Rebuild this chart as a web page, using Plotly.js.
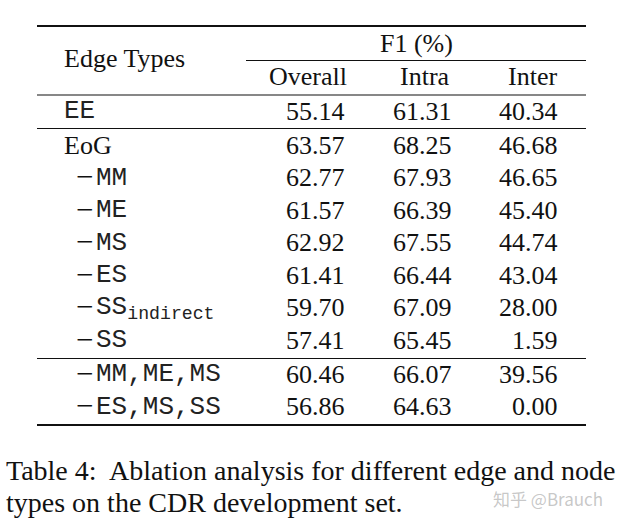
<!DOCTYPE html>
<html>
<head>
<meta charset="utf-8">
<script src="https://cdn.plot.ly/plotly-3.0.1.min.js"></script>
<style>html,body{margin:0;padding:0;background:#fff;}#chart{width:626px;height:522px;}</style>
</head>
<body>
<div id="chart"></div>
<script>
// ---- data ----
const edgeTypes = ["EE", "EoG", "MM", "ME", "MS", "ES", "SS<sub>indirect</sub>", "SS", "MM,ME,MS", "ES,MS,SS"];
const overall   = ["55.14", "63.57", "62.77", "61.57", "62.92", "61.41", "59.70", "57.41", "60.46", "56.86"];
const intra     = ["61.31", "68.25", "67.93", "66.39", "67.55", "66.44", "67.09", "65.45", "66.07", "64.63"];
const inter     = ["40.34", "46.68", "46.65", "45.40", "44.74", "43.04", "28.00", "1.59", "39.56", "0.00"];
const columnHeaders = ["Overall", "Intra", "Inter"];
const groupHeader = "F1 (%)";
const rowHeader = "Edge Types";
const captionLines = ["Table 4:  Ablation analysis for different edge and node", "types on the CDR development set."];
const watermark = "知乎 @Brauch";

// ---- layout ----
const serif = "Liberation Serif, Times New Roman, serif";
const mono = "Liberation Mono, Courier New, monospace";
const FS = 26;
const rowY = [111, 145, 177.5, 210, 242.5, 275, 307.5, 340, 374, 406.5];
const colRight = [347, 454, 560];
const colCenter = [308, 425, 532];

const ann = [];
function txt(x, y, text, xa, font, size, color) {
  ann.push({x: x, y: y, xref: 'x', yref: 'y', text: text, showarrow: false,
    xanchor: xa, yanchor: 'middle', font: {family: font, size: size || FS, color: color || '#111'}});
}
// headers
txt(62, 58, rowHeader, 'left', serif);
txt(416, 43, groupHeader, 'center', serif);
columnHeaders.forEach((h, i) => txt(colCenter[i], 76, h, 'center', serif));
// rows
edgeTypes.forEach((e, i) => {
  if (i === 0) {
    txt(62, rowY[i], e, 'left', mono, FS, '#222');
  } else if (i === 1) {
    txt(62, rowY[i], e, 'left', serif);
  } else {
    txt(74, rowY[i] - 1, "−", 'left', serif, 31);
    txt(94, rowY[i], e, 'left', mono, FS, '#222');
  }
  txt(colRight[0], rowY[i], overall[i], 'right', serif);
  txt(colRight[1], rowY[i], intra[i], 'right', serif);
  txt(colRight[2], rowY[i], inter[i], 'right', serif);
});
// caption
txt(4, 470, captionLines[0], 'left', serif, 28);
txt(4, 502, captionLines[1], 'left', serif, 28);
// watermark
txt(548, 498, watermark, 'center', "Noto Sans CJK SC, Noto Sans, sans-serif", 17, 'rgba(175,175,175,0.7)');

const shapes = [];
function rule(x0, x1, y, w) {
  shapes.push({type: 'line', xref: 'x', yref: 'y', x0: x0, x1: x1, y0: y, y1: y,
    line: {color: '#111', width: w}});
}
rule(37, 586, 26, 2.2);
rule(246, 586, 60.5, 1.2);
rule(37, 586, 95, 1.2);
rule(37, 586, 128.5, 1.2);
rule(37, 586, 358.5, 1.2);
rule(37, 586, 425, 2.2);

const layout = {
  width: 626, height: 522,
  margin: {l: 0, r: 0, t: 0, b: 0},
  paper_bgcolor: '#fff', plot_bgcolor: '#fff',
  xaxis: {range: [0, 626], visible: false, fixedrange: true},
  yaxis: {range: [522, 0], visible: false, fixedrange: true},
  annotations: ann, shapes: shapes, showlegend: false
};
Plotly.newPlot('chart', [], layout, {staticPlot: true, displayModeBar: false});
</script>
</body>
</html>
